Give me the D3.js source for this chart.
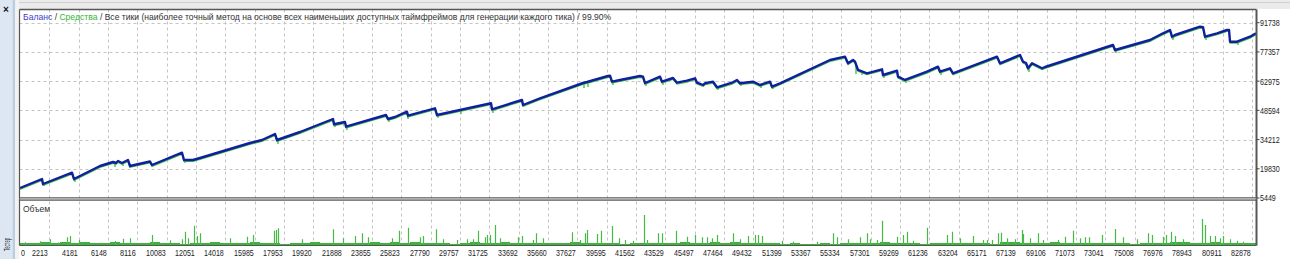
<!DOCTYPE html>
<html><head><meta charset="utf-8">
<script src="https://cdn.jsdelivr.net/npm/d3@7"></script>
<style>html,body{margin:0;padding:0;background:#fff;overflow:hidden}svg{display:block}text{font-family:"Liberation Sans",Arial,sans-serif}</style>
</head><body>
<svg id="c" width="1290" height="259"></svg>
<script>
// ---------- DATA ----------
const xTickLabels = [0,2213,4181,6148,8116,10083,12051,14018,15985,17953,19920,21888,23855,25823,27790,29757,31725,33692,35660,37627,39595,41562,43529,45497,47464,49432,51399,53367,55334,57301,59269,61236,63204,65171,67139,69106,71073,73041,75008,76976,78943,80911,82878];
const yTickLabels = [5449,19830,34212,48594,62975,77357,91738];

// balance curve (tick number, balance)
const balanceTicks = [255,1730,1797,3742,3876,5620,6491,6693,6827,7095,7497,7631,8973,9107,11119,11253,11856,12326,14337,15678,16483,17355,17489,19032,21245,21312,22050,22117,24799,24933,25402,26207,26274,28085,28219,29761,31840,31907,33919,33986,35126,38010,38278,39686,39820,39954,40491,41832,42033,42167,43173,43307,44045,44313,44984,45520,45654,46057,46191,46727,46996,48002,48337,48538,49410,49879,50550,50684,51220,54573,55579,55780,56115,56250,56451,57054,58060,58127,59066,59133,59603,61078,61816,61950,62621,62822,65773,65974,67315,67516,67717,67851,68120,68790,68992,73551,73685,76033,76905,77374,77508,77710,79386,79587,79721,80526,81197,81331,81398,81867,82739,83142];
const balanceValues = [10371,14802,12341,17903,14802,21201,23170,22678,23662,22678,24155,21201,23416,21693,27748,24155,24155,25139,29569,32523,34000,36953,34000,37938,44337,41728,42860,40546,46306,44337,45321,47930,45961,49604,46306,48767,52065,49111,53690,51228,54526,62058,62550,65504,65652,62698,63535,65504,65159,62058,65159,62698,64519,62205,63190,64371,62205,61073,61910,62698,59941,62205,63535,61910,62698,61073,62698,60237,61910,73380,75004,71755,73380,72543,68457,66832,68801,65996,68112,65159,63535,67620,70081,67620,69294,66832,75004,71755,75841,72543,71903,69294,71755,69294,69934,80763,78302,83225,86522,88147,84849,85686,89771,89476,84849,86522,88147,88147,82388,82388,84849,86522];

// equity dips (tick number, lowest equity)
const equityTicks = [1864,3943,6626,7162,9040,11320,17556,21379,22184,25000,26274,28286,29829,31974,38077,38345,40021,42234,43374,47063,48605,49946,50751,56317,56719,58195,59670,62017,67918,73753,77575,79788,81934];
const equityValues = [11356,13325,20709,21201,21693,22678,32031,40399,38922,42860,44337,44829,46798,47290,59597,60089,61073,60581,61073,58612,60581,59597,59104,66488,65996,64519,62058,65996,67473,76825,83225,83225,80763];

// volume spikes (tick number, volume)
const volumeTicks = [590,1596,2267,2803,3387,3608,4191,6626,7162,7631,9087,10314,11098,11320,11541,11923,12104,12326,14337,15457,15880,17288,17422,17577,19146,21225,21935,22720,23169,23612,25181,25691,26294,27079,27300,28152,28641,29540,30211,30653,30989,31438,31592,31773,32108,32444,33000,33671,33899,34677,34858,35347,37252,37808,38144,38298,38928,39197,39974,40424,40826,41383,42121,42281,43019,43327,44226,44964,45521,45970,46305,46681,46976,48089,48538,49095,49544,49765,49993,51334,52112,53682,54754,55023,55801,56585,57035,57256,57705,58081,59046,59489,59717,60159,61098,62399,62735,63291,64183,64854,65082,65417,65860,66021,66423,66980,67429,67536,67985,68542,68877,69883,70333,70889,71338,71674,71962,72794,73685,74242,75141,75917,76146,76925,77106,77421,77710,78266,79500,79721,80056,80391,80727,80948,81397,81847,82293,82964];
const volumeValues = [2.7,3.7,5.7,2.5,7.7,9,5,4,6.3,6.7,10,4.7,5.7,13.3,6.7,19.3,9,11.7,6.7,8.3,10,14.3,15,16.7,5.7,15.7,6.7,9,11.7,7.7,6.7,14.3,17.3,7.7,9,15.7,5.7,5,5.7,5.7,14.3,7.7,10,10,20,6.7,3.3,7.7,9,5,11.7,6.7,12.7,5,11.7,15,11,14.3,19,6.7,5,4.3,30,5,11.7,11.7,14.3,8.3,10,7.7,7.7,6.7,10,11.7,5.7,9,10,10,9,4.3,3.3,3.3,11.7,7.7,5.7,7.7,11.7,5.7,5,24.3,8.3,10,13.3,4.3,17.3,10,13.3,6.7,9,5,5,5,11.7,12.3,6.7,5.7,15,11,6.7,11.7,5,5,8.3,14.3,6.7,7.7,7.7,10,16,7.7,5.7,11.7,10,8.3,10,13.3,9,5.7,26,20,9,9,6.7,9,5.7,4.3,3.3,2.3];
// background low volume, one value per bin of lowBinTicks ticks, starting at tick lowStartTick
const lowStartTick = 255, lowBinTicks = 670.6;
const lowVolumes = [2,2,3,2,3,2,3,2,2,3,2,2, 2,3,2,2,1,2,2,3,2,2,2,3, 2,2,1,2,2,3,2,2,2,2,2,3,2,3,2, 3,2,2,2,1,2,3,2,2,3,2,2,2,2,2, 2,3,2,2,2,2,1,2,2,2,2,2,3,2,2, 3,2,3,2,2,2,2,1,2,1,1,2,1,2,2, 2,2,3,2,2,2,1,2,2,2,2,2,2,1,3, 3,2,2,2,3,2,2,2,2,2,2,2,1,2,2, 2,3,3,2,2,3,2,2,2,2,1];

const titleParts = [["Баланс","#3a3ac8"],["/","#333"],["Средства","#33b433"],["/ Все тики (наиболее точный метод на основе всех наименьших доступных таймфреймов для генерации каждого тика) / 99.90%","#333"]];
const volumeLabel = "Объем";
const sideLabel = "Тестер";

// ---------- LAYOUT ----------
const L = 19.5, R = 1256.5, T = 9.5, MB = 197.5, VT = 200.5, VB = 245.5;
const svg = d3.select("#c");

const x = d3.scaleLinear().domain([2213, 82878]).range([49.2, 1252.1]);
const y = d3.scaleLinear().domain([5449, 91738]).range([198, 22.7]);
const v = d3.scaleLinear().domain([0, 40]).range([245, 205]);

// chrome
svg.append("rect").attr("x",0).attr("y",0).attr("width",1290).attr("height",259).attr("fill","#fff");
svg.append("rect").attr("x",0).attr("y",0).attr("width",1290).attr("height",9).attr("fill","#ebebeb");
svg.append("line").attr("x1",15).attr("x2",1290).attr("y1",2.5).attr("y2",2.5).attr("stroke","#cfcfcf");
svg.append("rect").attr("x",0).attr("y",0).attr("width",13).attr("height",259).attr("fill","#dde7f3");
svg.append("rect").attr("x",12.7).attr("y",0).attr("width",2.5).attr("height",259).attr("fill","#bccde2");
svg.append("rect").attr("x",15.2).attr("y",0).attr("width",4).attr("height",259).attr("fill","#f2f2f2");
svg.append("text").attr("x",6).attr("y",13).attr("text-anchor","middle").attr("font-size",10).attr("font-weight","bold").attr("fill","#111").text("×");

// clip paths
const defs = svg.append("defs");
defs.append("clipPath").attr("id","cm").append("rect").attr("x",L).attr("y",T).attr("width",R-L).attr("height",MB-T);
defs.append("clipPath").attr("id","cv").append("rect").attr("x",L).attr("y",VT).attr("width",R-L).attr("height",VB-VT);

svg.append("text").attr("transform","translate(10,251) rotate(-90)").attr("font-size",8.5).attr("fill","#333")
  .attr("textLength",13).attr("lengthAdjust","spacingAndGlyphs").text(sideLabel);

// grid
const grid = svg.append("g").attr("stroke","#c4c4c4").attr("stroke-dasharray","3,3").attr("stroke-width",1);
xTickLabels.slice(1).forEach(t => {
  const px = Math.round(x(t)) + 0.5;
  grid.append("line").attr("x1",px).attr("x2",px).attr("y1",T).attr("y2",VB);
});
yTickLabels.slice(1).forEach(val => {
  const py = Math.round(y(val)) + 0.5;
  grid.append("line").attr("x1",L).attr("x2",R).attr("y1",py).attr("y2",py);
});

// volume: low band
const lowArea = d3.area()
  .x((d,i) => x(lowStartTick + i*lowBinTicks))
  .y0(v(0)).y1(d => v(d)).curve(d3.curveStepAfter);
svg.append("path").attr("clip-path","url(#cv)").datum(lowVolumes.concat([lowVolumes[lowVolumes.length-1]]))
  .attr("d", lowArea).attr("fill","#3cb43c");
// volume spikes
svg.append("g").attr("clip-path","url(#cv)").selectAll("line").data(volumeTicks).join("line")
  .attr("x1", d => Math.round(x(d))+0.5).attr("x2", d => Math.round(x(d))+0.5)
  .attr("y1", v(0)).attr("y2", (d,i) => v(volumeValues[i]))
  .attr("stroke","#45bb45").attr("stroke-width",1.2);

// equity dips
const bis = d3.bisector(d => d).left;
function balanceAt(t){
  let i = bis(balanceTicks, t);
  if (i <= 0) return balanceValues[0];
  if (i >= balanceTicks.length) return balanceValues[balanceValues.length-1];
  const t0 = balanceTicks[i-1], t1 = balanceTicks[i];
  return balanceValues[i-1] + (balanceValues[i]-balanceValues[i-1])*(t-t0)/(t1-t0);
}
svg.append("g").attr("clip-path","url(#cm)").selectAll("line").data(equityTicks).join("line")
  .attr("x1", d => x(d)).attr("x2", d => x(d))
  .attr("y1", d => y(balanceAt(d))).attr("y2", (d,i) => y(equityValues[i]))
  .attr("stroke","#3fc43f").attr("stroke-width",1.4);
// thin equity line under balance
const line = d3.line().x((d,i) => x(balanceTicks[i])).y(d => y(d));
svg.append("path").attr("clip-path","url(#cm)").datum(balanceValues).attr("d", line)
  .attr("fill","none").attr("stroke","#44c444").attr("stroke-width",1.2).attr("transform","translate(0,1.4)");
// balance
svg.append("path").attr("clip-path","url(#cm)").datum(balanceValues).attr("d", line)
  .attr("fill","none").attr("stroke","#0f1f9e").attr("stroke-width",2.4).attr("stroke-linejoin","round");

// borders
const bc = "#565656";
svg.append("line").attr("x1",L).attr("x2",L).attr("y1",T).attr("y2",VB).attr("stroke",bc).attr("stroke-width",1.2);
svg.append("line").attr("x1",R).attr("x2",R).attr("y1",T).attr("y2",VB).attr("stroke",bc).attr("stroke-width",2);
svg.append("line").attr("x1",L).attr("x2",R).attr("y1",T).attr("y2",T).attr("stroke",bc).attr("stroke-width",1.4);
svg.append("line").attr("x1",L).attr("x2",R).attr("y1",VB).attr("y2",VB).attr("stroke",bc).attr("stroke-width",1.2);
svg.append("line").attr("x1",L).attr("x2",R).attr("y1",197.8).attr("y2",197.8).attr("stroke","#5a5a5a").attr("stroke-width",1.2);
svg.append("line").attr("x1",L).attr("x2",R).attr("y1",198.9).attr("y2",198.9).attr("stroke","#b4b4b4").attr("stroke-width",1);
svg.append("line").attr("x1",L).attr("x2",R).attr("y1",200.1).attr("y2",200.1).attr("stroke","#5a5a5a").attr("stroke-width",1.3);

// title: separate pieces, font size chosen so the whole line spans ~589px
const tg = svg.append("g");
const baseFs = 10;
const pieces = titleParts.map(p => tg.append("text").attr("y",20.3).attr("font-size",baseFs).attr("fill",p[1]).text(p[0]));
const gapProbe = tg.append("text").attr("font-size",baseFs).text("a a");
const gapProbe2 = tg.append("text").attr("font-size",baseFs).text("aa");
const gapNat = gapProbe.node().getComputedTextLength() - gapProbe2.node().getComputedTextLength();
gapProbe.remove(); gapProbe2.remove();
const nat = pieces.map(t => t.node().getComputedTextLength());
const k = 589 / (d3.sum(nat) + gapNat * 3);
const fs = baseFs * k;
let cx = 23;
pieces.forEach((t,i) => {
  t.attr("font-size", fs).attr("x", cx);
  cx += nat[i]*k + gapNat*k;
});
svg.append("text").attr("x",23).attr("y",211.5).attr("font-size",9).attr("fill","#333")
  .attr("textLength",27).attr("lengthAdjust","spacingAndGlyphs").text(volumeLabel);

// y axis labels
const ya = svg.append("g");
yTickLabels.forEach(val => {
  const py = y(val);
  ya.append("line").attr("x1",R).attr("x2",R+3).attr("y1",py).attr("y2",py).attr("stroke","#444");
  ya.append("text").attr("x",1260).attr("y",py+3.4).attr("font-size",9.6).attr("fill","#222")
    .attr("textLength",String(val).length*3.95).attr("lengthAdjust","spacingAndGlyphs").text(val);
});
// x axis labels
const xa = svg.append("g");
xTickLabels.forEach((t,i) => {
  const s = String(t);
  const tx = xa.append("text").attr("y",255.6).attr("font-size",9.6).attr("fill","#222")
    .attr("textLength",s.length*3.95).attr("lengthAdjust","spacingAndGlyphs").text(s);
  if (i === 0) tx.attr("x",21);
  else tx.attr("x", Math.round(x(t)) - 1.2 - s.length*3.95);
});
</script>
</body></html>
